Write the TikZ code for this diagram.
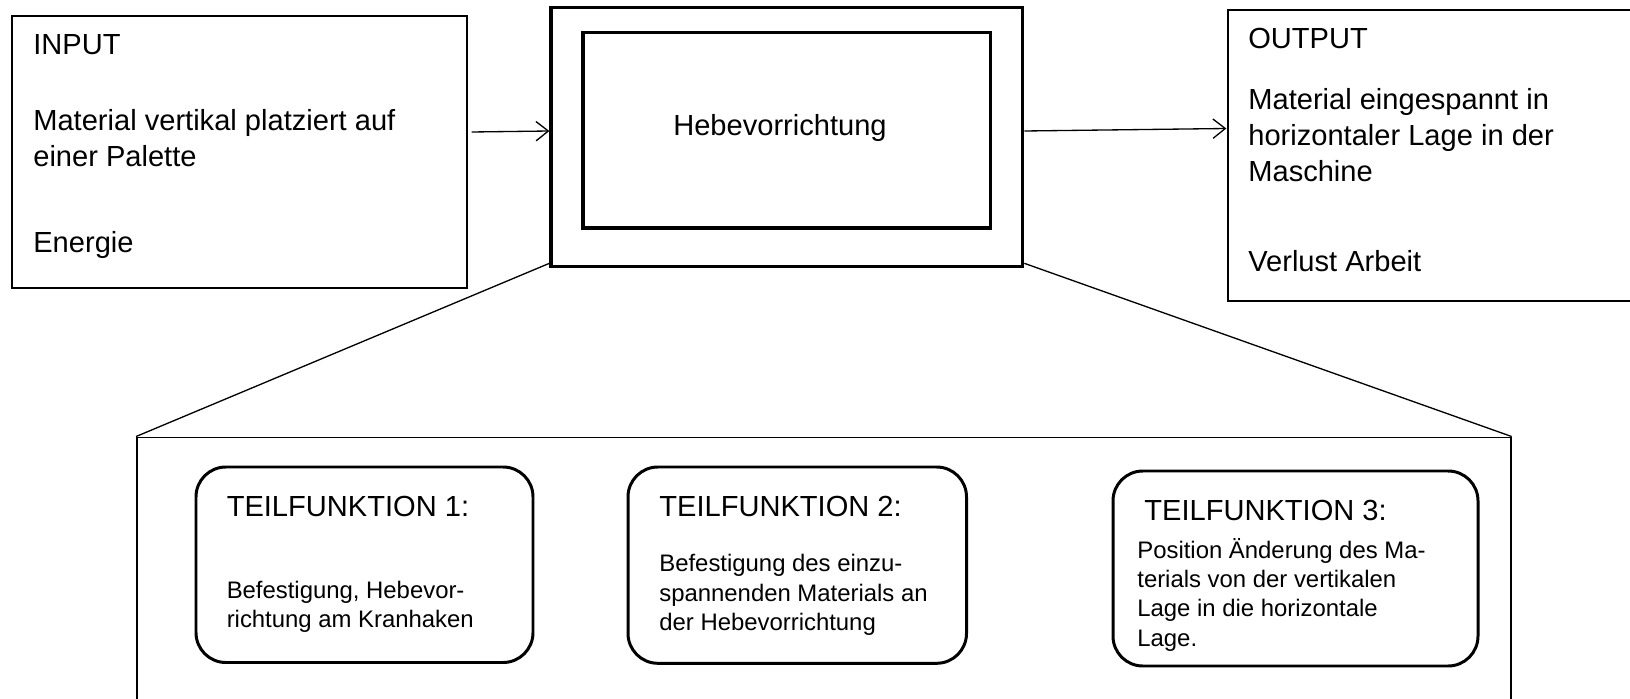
\documentclass[tikz,border=0pt]{standalone}
\usepackage{fontspec}
\setmainfont{Liberation Sans}
\usetikzlibrary{calc}
\usetikzlibrary{fit}
\usetikzlibrary{arrows.meta}

% mehrzeiliger Text, Grundlinie = erste Zeile
\newcommand{\zeilen}[1]{\vtop{\halign{##\hfil\cr#1\crcr}}}

\tikzset{
    thinbox/.style={draw, line width=0.75pt, inner sep=0pt},
    thickbox/.style={draw, line width=1.85pt, inner sep=0pt},
    tfbox/.style={draw, line width=1.7pt, rounded corners=17pt, inner sep=0pt},
    bigtext/.style={inner sep=0pt, anchor=base west,
        font=\fontsize{16.55}{20.4}\selectfont},
    smalltext/.style={inner sep=0pt, anchor=base west,
        font=\fontsize{13.6}{16.7}\selectfont},
    pfeil/.style={-{Straight Barb[length=7pt,width=11pt]}, line width=0.75pt},
}

\begin{document}
\begin{tikzpicture}[x=0.02cm, y=-0.02cm]

    \useasboundingbox (0,0) rectangle (1630,699);
    \clip (0,0) rectangle (1630,699);

    % Eckpunkte der Kaesten
    \coordinate (inp_nw) at (12,16);
    \coordinate (inp_se) at (467,288);
    \coordinate (hebe_nw) at (551,7.3);
    \coordinate (hebe_se) at (1022.7,266.7);
    \coordinate (innen_nw) at (583,32.7);
    \coordinate (innen_se) at (990.7,228);
    \coordinate (out_nw) at (1228,10);
    \coordinate (out_se) at (1720,301);          % rechts abgeschnitten
    \coordinate (zoom_nw) at (137,437.5);
    \coordinate (zoom_se) at (1510.7,760);       % unten abgeschnitten
    \coordinate (tf1_nw) at (196,467);
    \coordinate (tf1_se) at (533,662.5);
    \coordinate (tf2_nw) at (628,467);
    \coordinate (tf2_se) at (966.5,663.3);
    \coordinate (tf3_nw) at (1113,471);
    \coordinate (tf3_se) at (1478,666);

    % Kaesten
    \node[thinbox, fit=(inp_nw)(inp_se)] (inp) {};
    \node[thickbox, fit=(hebe_nw)(hebe_se)] (hebe) {};
    \node[thickbox, fit=(innen_nw)(innen_se)] (innen) {};
    \node[thinbox, fit=(out_nw)(out_se)] (out) {};
    \node[draw, line width=1.1pt, inner sep=0pt, fit=(zoom_nw)(zoom_se)] (zoom) {};
    \node[tfbox, fit=(tf1_nw)(tf1_se)] (tf1) {};
    \node[tfbox, fit=(tf2_nw)(tf2_se)] (tf2) {};
    \node[tfbox, fit=(tf3_nw)(tf3_se)] (tf3) {};

    % Pfeile und Verbindungslinien
    \draw[pfeil] ($(inp.east)+(4,-20)$) -- ($(hebe.west)+(0,-6)$);
    \draw[pfeil] ($(hebe.east)+(0,-6)$) -- ($(out.west)+(-1,-27)$);
    \draw[line width=0.75pt] ($(hebe.south west)+(0,-5)$) -- (zoom.north west);
    \draw[line width=0.75pt] ($(hebe.south east)+(0,-5)$) -- (zoom.north east);

    % Texte INPUT
    \node[bigtext] (t_inp) at (33,55) {INPUT};
    \node[bigtext] (t_mat) at (33,130.7) {\zeilen{Material vertikal platziert auf\cr einer Palette}};
    \node[bigtext] (t_ene) at (33,253) {Energie};

    % Text Hebevorrichtung
    \node[bigtext, anchor=base] (t_hebe) at (780,136) {Hebevorrichtung};

    % Texte OUTPUT
    \node[bigtext] (t_out) at (1248,48.3) {OUTPUT};
    \node[bigtext] (t_mas) at (1248,110) {\zeilen{Material eingespannt in\cr horizontaler Lage in der\cr Maschine}};
    \node[bigtext] (t_ver) at (1248,271.7) {Verlust Arbeit};

    % Teilfunktionen
    \node[bigtext] (t_tf1) at (226.4,516.7) {TEILFUNKTION 1:};
    \node[smalltext] (b_tf1) at (226.4,598.3) {\zeilen{Befestigung, Hebevor-\cr richtung am Kranhaken}};
    \node[bigtext] (t_tf2) at (659,516.7) {TEILFUNKTION 2:};
    \node[smalltext] (b_tf2) at (659,571.7) {\zeilen{Befestigung des einzu-\cr spannenden Materials an\cr der Hebevorrichtung}};
    \node[bigtext] (t_tf3) at (1144,520) {TEILFUNKTION 3:};
    \node[smalltext] (b_tf3) at (1137,558.3) {\zeilen{Position Änderung des Ma-\cr terials von der vertikalen\cr Lage in die horizontale\cr Lage.}};

\end{tikzpicture}
\end{document}
